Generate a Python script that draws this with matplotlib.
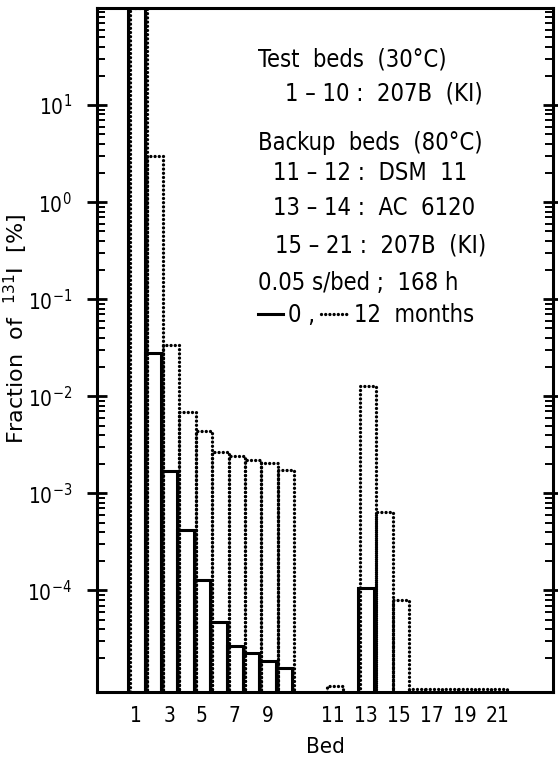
import numpy as np
import matplotlib
from matplotlib import pyplot as plt
from matplotlib.ticker import FixedLocator, LogLocator, NullFormatter

matplotlib.use("Agg")

plt.rcParams['font.family'] = ['DejaVu Sans']
plt.rcParams['font.stretch'] = 'condensed'
plt.rcParams['mathtext.default'] = 'regular'

# beds: 1-10 test beds, 11-21 backup beds
test_beds = np.arange(1, 11)
backup_beds = np.arange(11, 22)
bed_labels = [1, 3, 5, 7, 9, 11, 13, 15, 17, 19, 21]

# fraction of 131I [%] per bed, 1e-6 means below the plotted range
fresh_test = [100, 2.8e-2, 1.72e-3, 4.2e-4, 1.27e-4, 4.7e-5, 2.7e-5, 2.27e-5, 1.87e-5, 1.58e-5]
fresh_backup = [1e-6, 1e-6, 1.07e-4, 1e-6, 1e-6, 1e-6, 1e-6, 1e-6, 1e-6, 1e-6, 1e-6]
aged_test = [100, 3.0, 3.35e-2, 6.95e-3, 4.4e-3, 2.7e-3, 2.45e-3, 2.2e-3, 2.04e-3, 1.74e-3]
aged_backup = [1.05e-5, 1e-6, 1.27e-2, 6.4e-4, 7.9e-5, 9.6e-6, 9.6e-6, 9.6e-6, 9.6e-6, 9.6e-6, 9.6e-6]

gap = 2  # empty space between test and backup beds, in bed widths
floor = 1e-7
dots = (0, (0.01, 1.25))

beds = np.concatenate([test_beds, backup_beds])
pos = np.where(beds > 10, beds + gap, beds)
fresh = np.concatenate([fresh_test, fresh_backup])
aged = np.concatenate([aged_test, aged_backup])

fig = plt.figure(figsize=(5.58, 7.64), dpi=100)
ax = fig.add_axes([97 / 558, 1 - 692 / 764, 456 / 558, 684 / 764])

ax.bar(pos + 0.12, aged - floor, width=1, bottom=floor, fill=False,
       edgecolor='black', linewidth=2.4, linestyle=dots, capstyle='round')
ax.bar(pos, fresh - floor, width=1, bottom=floor, fill=False,
       edgecolor='black', linewidth=2.2)

ax.set_yscale('log')
ax.set_ylim(9e-6, 100)
ax.set_xlim(-1.4, 26.4)

ax.yaxis.set_major_locator(FixedLocator([1e-4, 1e-3, 1e-2, 1e-1, 1e0, 1e1]))
ax.yaxis.set_minor_locator(LogLocator(base=10, subs=np.arange(2, 10), numticks=20))
ax.yaxis.set_minor_formatter(NullFormatter())
ax.tick_params(axis='y', which='major', direction='inout', length=14, width=2,
               left=True, right=True, pad=11, labelsize=15)
ax.tick_params(axis='y', which='minor', direction='in', length=6, width=1.4,
               left=True, right=True)

bed_ticks = np.where(np.array(bed_labels) > 10, np.array(bed_labels) + gap, bed_labels)
ax.set_xticks(bed_ticks)
ax.set_xticklabels([str(b) for b in bed_labels])
ax.tick_params(axis='x', length=0, pad=10, labelsize=15)

for s in ax.spines.values():
    s.set_linewidth(2.2)

ax.set_xlabel('Bed', fontsize=16, labelpad=8)
ax.set_ylabel('Fraction  of  $^{131}$I  [%]', fontsize=16, fontstretch='normal')
ax.yaxis.set_label_coords(-0.147, 0.53)

notes = [
    (258, 67, 'Test  beds  (30°C)'),
    (285, 100, '1 – 10 :  207B  (KI)'),
    (258, 150, 'Backup  beds  (80°C)'),
    (273, 180, '11 – 12 :  DSM  11'),
    (273, 215, '13 – 14 :  AC  6120'),
    (275, 252, '15 – 21 :  207B  (KI)'),
    (258, 290, '0.05 s/bed ;  168 h'),
    (288, 322, '0 ,'),
    (354, 322, '12  months'),
]
for x, y, s in notes:
    fig.text(x / 558, 1 - y / 764, s, fontsize=17, va='baseline', ha='left')

# legend samples
ax.plot([(258 - 97) / 456, (283 - 97) / 456], [(692 - 314) / 684] * 2,
        transform=ax.transAxes, color='black', linewidth=2.2, clip_on=False)
ax.plot([(321 - 97) / 456, (348 - 97) / 456], [(692 - 314) / 684] * 2,
        transform=ax.transAxes, color='black', linewidth=2.4,
        linestyle=dots, dash_capstyle='round', clip_on=False)

fig.savefig("out.png", dpi=100)
